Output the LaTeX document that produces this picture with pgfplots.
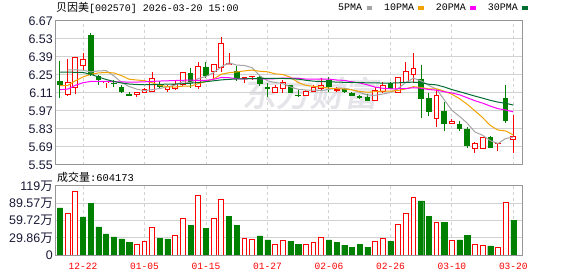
\documentclass[border=0pt]{standalone}
\usepackage{fontspec}
\setmainfont{Liberation Sans}
\setmonofont{Liberation Mono}
\newfontfamily\cjk{Noto Sans CJK SC}
\newfontfamily\wmfont[FakeBold=2.5,FakeSlant=0.18]{Noto Sans CJK SC}
\usepackage{pgfplots}
\usepackage{pgfplotstable}
\pgfplotsset{compat=1.18}

\definecolor{kred}{RGB}{255,0,0}
\definecolor{kgreen}{RGB}{0,128,0}
\definecolor{maA}{RGB}{165,165,165}
\definecolor{maB}{RGB}{242,162,0}
\definecolor{maC}{RGB}{255,0,255}
\definecolor{maD}{RGB}{0,110,50}
\definecolor{gridc}{RGB}{210,210,210}
\definecolor{framec}{RGB}{150,150,150}
\definecolor{labc}{RGB}{25,25,55}
\definecolor{wmc}{RGB}{228,228,233}

\pgfplotstableread{
x o h l c
1 6.102 6.377 6.084 6.188
2 6.154 6.390 6.102 6.387
3 6.322 6.420 6.284 6.369
6 6.188 6.205 6.149 6.198
10 6.102 6.120 6.081 6.112
11 6.112 6.146 6.107 6.138
12 6.125 6.276 6.120 6.224
14 6.138 6.172 6.120 6.159
15 6.146 6.200 6.130 6.178
16 6.178 6.271 6.164 6.271
18 6.159 6.354 6.141 6.315
20 6.276 6.328 6.219 6.328
21 6.310 6.548 6.276 6.496
22 6.333 6.419 6.330 6.341
24 6.225 6.237 6.190 6.232
25 6.237 6.245 6.211 6.242
28 6.115 6.170 6.115 6.154
29 6.146 6.211 6.107 6.190
32 6.092 6.133 6.088 6.118
33 6.123 6.170 6.118 6.154
34 6.146 6.229 6.133 6.170
36 6.136 6.159 6.120 6.138
41 6.050 6.154 6.050 6.133
42 6.118 6.198 6.107 6.170
44 6.112 6.232 6.107 6.232
45 6.190 6.351 6.185 6.279
46 6.255 6.423 6.190 6.302
49 5.913 6.133 5.848 6.087
51 5.874 5.910 5.866 5.890
54 5.680 5.730 5.646 5.719
55 5.680 5.770 5.680 5.765
57 5.716 5.725 5.662 5.720
59 5.750 5.939 5.646 5.775
}\upT

\pgfplotstableread{
x o h l c
0 6.206 6.356 6.070 6.175
4 6.559 6.577 6.240 6.252
5 6.240 6.252 6.176 6.214
7 6.190 6.211 6.154 6.185
8 6.154 6.172 6.107 6.115
9 6.105 6.120 6.086 6.090
13 6.180 6.205 6.146 6.159
17 6.263 6.302 6.146 6.185
19 6.315 6.354 6.224 6.245
23 6.281 6.320 6.206 6.224
26 6.234 6.250 6.164 6.180
27 6.152 6.185 6.079 6.148
30 6.172 6.172 6.112 6.112
31 6.094 6.133 6.077 6.090
35 6.211 6.237 6.120 6.159
37 6.138 6.146 6.112 6.120
38 6.112 6.118 6.086 6.089
39 6.089 6.094 6.063 6.069
40 6.081 6.102 6.050 6.050
43 6.185 6.198 6.138 6.141
47 6.216 6.328 5.918 6.066
48 6.069 6.107 5.931 5.965
50 5.970 6.042 5.814 5.866
52 5.866 5.892 5.814 5.832
53 5.830 5.843 5.680 5.700
56 5.765 5.775 5.680 5.680
58 6.069 6.172 5.874 5.895
}\downT

\pgfplotstableread{
x v
0 81.4
3 65.8
4 88.9
5 48.5
6 36.4
7 31.2
8 27.7
9 21.3
13 29.4
14 27.7
17 51.9
19 46.7
22 67.5
23 51.9
26 32.9
27 26.0
30 24.2
31 19.0
35 26.0
36 22.5
37 17.3
38 13.8
39 19.0
40 13.8
43 24.2
47 93.5
48 67.5
50 57.1
52 26.0
53 34.6
56 15.6
59 60.4
}\volG

\pgfplotstableread{
x v
1 71.0
2 110.0
10 18.5
11 24.2
12 47.9
15 34.0
16 63.5
18 103.0
20 63.5
21 96.4
24 28.9
25 27.1
28 18.5
29 25.4
32 18.5
33 21.9
34 30.6
41 23.7
42 28.9
44 53.0
45 71.0
46 99.8
49 56.5
51 25.4
54 18.5
55 16.7
57 13.3
58 91.2
}\volR

\pgfplotsset{
  kbase/.style={
    scale only axis, width=467.5bp,
    xmin=-0.65, xmax=60.19,
    axis line style={draw=framec, line width=1bp},
    major tick length=0pt,
    xtick={3,11,19,27,35,43,51,59},
    xmajorgrids, ymajorgrids,
    x grid style={draw=gridc, line width=0.9bp, dash pattern=on 3bp off 3bp},
    y grid style={draw=gridc, line width=1bp},
    yticklabel style={anchor=east, inner sep=0pt, xshift=-2bp, text=labc, font=\fontsize{12.5}{12.5}\selectfont},
  }
}

\begin{document}
\begin{tikzpicture}
\path[use as bounding box] (0,0) rectangle (578bp,276bp);
\node[text=wmc, font=\wmfont\fontsize{34}{34}\selectfont] at (310bp,183bp) {东方财富};
\node[anchor=west, inner sep=0pt, font=\fontsize{10}{10}\selectfont] at (56bp,268bp) {{\cjk\fontsize{11}{11}\selectfont 贝因美}\ttfamily[002570] 2026-03-20 15:00};
\node[anchor=west, inner sep=0pt, font=\fontsize{10.5}{10.5}\selectfont] at (57bp,99bp) {{\cjk\fontsize{11}{11}\selectfont 成交量}\ttfamily:604173};

\begin{axis}[kbase,
  at={(55bp,111bp)}, anchor=south west, height=144bp,
  ymin=5.55, ymax=6.67,
  ytick={5.55,5.69,5.83,5.97,6.11,6.25,6.39,6.53,6.67},
  yticklabels={5.55,5.69,5.83,5.97,6.11,6.25,6.39,6.53,6.67},
  xticklabels={},
  legend columns=4, legend plot pos=right,
  legend image code/.code={\draw[#1, line width=4bp] (0bp,0bp) -- (5.5bp,0bp);},
  legend style={draw=none, fill=none, at={(0.6053,1.0903)}, anchor=west, inner sep=0pt,
    font=\ttfamily\fontsize{10}{10}\selectfont, nodes={inner sep=0pt},
    /tikz/every odd column/.style={column sep=2.5bp},
    /tikz/every even column/.style={column sep=10bp}},
]
% wicks
\addplot[draw=none, forget plot, error bars/.cd, y dir=both, y explicit, error mark=none,
  error bar style={draw=kred, line width=1bp}]
  table[x=x, y expr={(\thisrow{h}+\thisrow{l})/2}, y error expr={(\thisrow{h}-\thisrow{l})/2}] {\upT};
\addplot[draw=none, forget plot, error bars/.cd, y dir=both, y explicit, error mark=none,
  error bar style={draw=kgreen, line width=1bp}]
  table[x=x, y expr={(\thisrow{h}+\thisrow{l})/2}, y error expr={(\thisrow{h}-\thisrow{l})/2}] {\downT};
% bodies
\addplot[draw=none, forget plot, error bars/.cd, y dir=both, y explicit, error mark=none,
  error bar style={draw=kgreen, line width=5.6bp}]
  table[x=x, y expr={(\thisrow{o}+\thisrow{c})/2}, y error expr={max(abs(\thisrow{o}-\thisrow{c})/2,0.004)}] {\downT};
\addplot[draw=none, forget plot, error bars/.cd, y dir=both, y explicit, error mark=none,
  error bar style={draw=kred, line width=5.8bp}]
  table[x=x, y expr={(\thisrow{o}+\thisrow{c})/2}, y error expr={(\thisrow{c}-\thisrow{o})/2+0.0039}] {\upT};
\addplot[draw=none, forget plot, error bars/.cd, y dir=both, y explicit, error mark=none,
  error bar style={draw=white, line width=3.8bp}]
  table[x=x, y expr={(\thisrow{o}+\thisrow{c})/2}, y error expr={max((\thisrow{c}-\thisrow{o})/2-0.0039,0)}] {\upT};
% moving averages
\addplot[maA, line width=1bp] coordinates {(1,6.290)(2,6.290)(3,6.287)(4,6.274)(5,6.282)(6,6.284)(7,6.244)(8,6.193)(9,6.160)(10,6.140)(11,6.128)(12,6.136)(13,6.145)(14,6.158)(15,6.172)(16,6.198)(17,6.190)(18,6.222)(19,6.239)(20,6.269)(21,6.314)(22,6.345)(23,6.327)(24,6.324)(25,6.307)(26,6.244)(27,6.205)(28,6.191)(29,6.183)(30,6.157)(31,6.139)(32,6.133)(33,6.133)(34,6.129)(35,6.138)(36,6.148)(37,6.148)(38,6.135)(39,6.115)(40,6.093)(41,6.092)(42,6.102)(43,6.113)(44,6.145)(45,6.191)(46,6.225)(47,6.204)(48,6.169)(49,6.140)(50,6.057)(51,5.975)(52,5.928)(53,5.875)(54,5.807)(55,5.781)(56,5.739)(57,5.717)(58,5.756)(59,5.767)};
\addlegendentry{5PMA}
\addplot[maB, line width=1bp] coordinates {(0,6.167)(1,6.168)(2,6.205)(3,6.235)(4,6.255)(5,6.266)(6,6.270)(7,6.266)(8,6.245)(9,6.217)(10,6.211)(11,6.206)(12,6.190)(13,6.169)(14,6.159)(15,6.156)(16,6.163)(17,6.163)(18,6.183)(19,6.199)(20,6.220)(21,6.256)(22,6.268)(23,6.274)(24,6.282)(25,6.288)(26,6.279)(27,6.275)(28,6.259)(29,6.254)(30,6.232)(31,6.191)(32,6.169)(33,6.162)(34,6.156)(35,6.148)(36,6.143)(37,6.141)(38,6.134)(39,6.122)(40,6.116)(41,6.120)(42,6.125)(43,6.124)(44,6.130)(45,6.142)(46,6.159)(47,6.153)(48,6.141)(49,6.143)(50,6.124)(51,6.100)(52,6.066)(53,6.022)(54,5.971)(55,5.919)(56,5.857)(57,5.822)(58,5.815)(59,5.784)};
\addlegendentry{10PMA}
\addplot[maC, line width=1bp] coordinates {(0,6.136)(1,6.140)(2,6.170)(3,6.190)(4,6.200)(5,6.200)(6,6.200)(7,6.198)(8,6.196)(9,6.195)(10,6.195)(11,6.197)(12,6.200)(13,6.203)(14,6.205)(15,6.207)(16,6.209)(17,6.210)(18,6.208)(19,6.208)(20,6.216)(21,6.231)(22,6.229)(23,6.221)(24,6.220)(25,6.222)(26,6.221)(27,6.219)(28,6.221)(29,6.226)(30,6.226)(31,6.224)(32,6.218)(33,6.218)(34,6.219)(35,6.218)(36,6.211)(37,6.208)(38,6.197)(39,6.188)(40,6.174)(41,6.156)(42,6.147)(43,6.143)(44,6.143)(45,6.145)(46,6.151)(47,6.147)(48,6.137)(49,6.132)(50,6.120)(51,6.110)(52,6.096)(53,6.073)(54,6.050)(55,6.031)(56,6.008)(57,5.988)(58,5.978)(59,5.963)};
\addlegendentry{20PMA}
\addplot[maD, line width=1bp] coordinates {(0,6.272)(1,6.272)(2,6.271)(3,6.270)(4,6.255)(5,6.235)(6,6.215)(7,6.200)(8,6.188)(9,6.180)(10,6.176)(11,6.174)(12,6.175)(13,6.177)(14,6.179)(15,6.180)(16,6.182)(17,6.186)(18,6.192)(19,6.198)(20,6.205)(21,6.212)(22,6.216)(23,6.219)(24,6.220)(25,6.222)(26,6.223)(27,6.224)(28,6.224)(29,6.223)(30,6.221)(31,6.218)(32,6.209)(33,6.202)(34,6.199)(35,6.197)(36,6.195)(37,6.193)(38,6.192)(39,6.191)(40,6.189)(41,6.189)(42,6.187)(43,6.187)(44,6.189)(45,6.193)(46,6.194)(47,6.190)(48,6.178)(49,6.173)(50,6.157)(51,6.137)(52,6.120)(53,6.103)(54,6.086)(55,6.070)(56,6.053)(57,6.039)(58,6.030)(59,6.016)};
\addlegendentry{30PMA}
\end{axis}

\begin{axis}[kbase,
  at={(55bp,21bp)}, anchor=south west, height=69bp,
  ymin=0, ymax=119.43,
  ytick={0,29.86,59.72,89.57,119.43},
  yticklabels={0,29.86{\cjk 万},59.72{\cjk 万},89.57{\cjk 万},119{\cjk 万}},
  xticklabels={12-22,01-05,01-15,01-27,02-06,02-26,03-10,03-20},
  xticklabel style={anchor=center, inner sep=0pt, yshift=-11bp, text=kred, font=\ttfamily\fontsize{9.6}{9.6}\selectfont},
]
\addplot[ybar, bar width=5.2bp, bar shift=0pt, fill=kgreen, draw=kgreen, line width=0.4bp] table[x=x, y=v] {\volG};
\addplot[ybar, bar width=4.8bp, bar shift=0pt, fill=white, draw=kred, line width=1bp] table[x=x, y=v] {\volR};
\end{axis}
\end{tikzpicture}
\end{document}
